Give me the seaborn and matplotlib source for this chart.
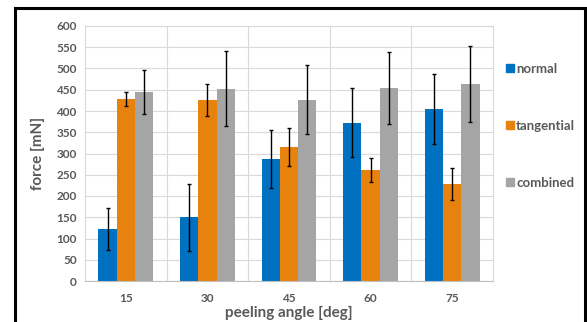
import numpy as np
import pandas as pd
import matplotlib
matplotlib.use('Agg')
import matplotlib.pyplot as plt
import seaborn as sns
from matplotlib.patches import Rectangle
from matplotlib.lines import Line2D

angles = ['15', '30', '45', '60', '75']
series = ['normal', 'tangential', 'combined']
normal = [122, 150, 287, 372, 405]
normal_err = [50, 79, 68, 81, 82]
tangential = [428, 426, 316, 261, 228]
tangential_err = [16, 37, 45, 28, 38]
combined = [445, 452, 427, 454, 463]
combined_err = [52, 88, 82, 85, 90]

colors = ['#0070C0', '#E8820E', '#A5A5A5']
text_color = '#595959'

df = pd.DataFrame({
    'angle': angles * 3,
    'kind': [s for s in series for _ in angles],
    'force': normal + tangential + combined,
    'err': normal_err + tangential_err + combined_err,
})

sns.set_style('white')
plt.rcParams['font.family'] = ['Lato', 'DejaVu Sans']

fig = plt.figure(figsize=(5.87, 3.22), dpi=100)
ax = fig.add_axes([85 / 587, 1 - 281 / 322, (493 - 85) / 587, (281 - 26) / 322])

sns.barplot(data=df, x='angle', y='force', hue='kind', order=angles,
            hue_order=series, palette=colors, width=0.67, gap=0,
            errorbar=None, saturation=1, legend=False, linewidth=0, ax=ax)

# error bars at bar centres
for i, s in enumerate(series):
    sub = df[df['kind'] == s]
    bars = ax.containers[i]
    xs = [b.get_x() + b.get_width() / 2 for b in bars]
    ax.errorbar(xs, sub['force'], yerr=sub['err'], fmt='none',
                ecolor='black', elinewidth=1, capsize=1.5, capthick=1, zorder=5)

ax.set_ylim(0, 600)
ax.set_yticks(range(0, 601, 50))
ax.set_xlim(-0.5, 4.5)
ax.set_axisbelow(True)
ax.yaxis.grid(True, color='#D9D9D9', linewidth=0.8)
for xb in np.arange(0.5, 4.0, 1.0):
    ax.axvline(xb, color='#D9D9D9', linewidth=0.8, zorder=0)
for side in ['top', 'right', 'left']:
    ax.spines[side].set_color('#D9D9D9')
    ax.spines[side].set_linewidth(0.8)
ax.spines['bottom'].set_color('#BFBFBF')

ax.tick_params(axis='both', length=0, labelsize=8.5, labelcolor=text_color, pad=6)
for lab in ax.get_xticklabels() + ax.get_yticklabels():
    lab.set_fontweight('bold')
ax.tick_params(axis='x', pad=9)
ax.set_ylabel('force [mN]', fontsize=11, fontweight='bold', color=text_color, labelpad=8)
ax.set_xlabel('peeling angle [deg]', fontsize=11, fontweight='bold', color=text_color, labelpad=1)

handles = [Line2D([], [], marker='s', linestyle='none', markersize=6,
                  markerfacecolor=c, markeredgecolor=c) for c in colors]
fig.legend(handles, series, loc='upper left', bbox_to_anchor=(493 / 587, 1 - 51 / 322),
           frameon=False, labelspacing=3.4, handletextpad=0.05, handlelength=0.8,
           prop={'weight': 'bold', 'size': 9.5}, labelcolor=text_color)

# black frame around the chart (cut off at the bottom)
fig.patches.append(Rectangle((15 / 587, -0.05), (585 - 15) / 587, 1.05 - 8 / 322,
                             transform=fig.transFigure, fill=False,
                             edgecolor='black', linewidth=2.2, clip_on=False))

fig.savefig('out.png', dpi=100)
